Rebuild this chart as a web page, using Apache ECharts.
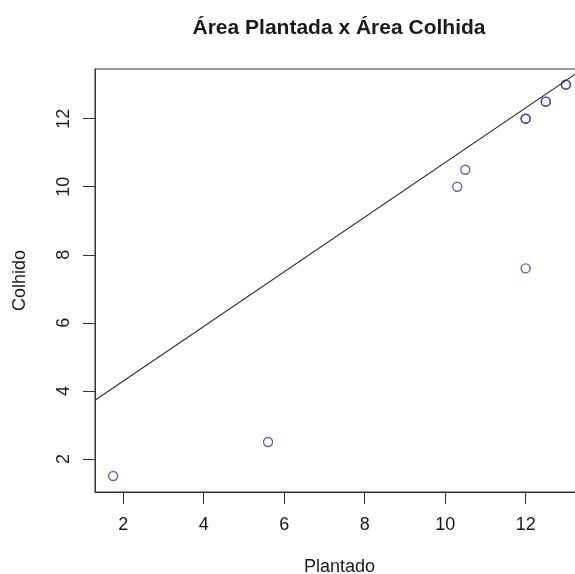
<!DOCTYPE html>
<html>
<head>
<meta charset="utf-8">
<script src="https://cdn.jsdelivr.net/npm/echarts@6/dist/echarts.min.js"></script>
<style>
  html, body { margin: 0; padding: 0; background: #fff; }
  #chart { width: 575px; height: 574px; }
</style>
</head>
<body>
<div id="chart"></div>
<script>
// data
let plantado = [1.75, 5.6, 10.3, 10.5, 12, 12, 12, 12.5, 12.5, 13, 13];
let colhido = [1.5, 2.5, 10, 10.5, 12, 12, 7.6, 12.5, 12.5, 13, 13];
let xTicks = [2, 4, 6, 8, 10, 12];
let yTicks = [2, 4, 6, 8, 10, 12];

// fitted line (abline)
let intercept = 2.68;
let slope = 0.803;

let xMin = 1.3, xMax = 13.45;
let yMin = 1.03, yMax = 13.46;

let fontFamily = '"Liberation Sans", Arial, sans-serif';
let textColor = '#1a1a1a';
let axisColor = '#333';

let points = plantado.map(function (x, i) { return [x, colhido[i]]; });
let lineData = [
    [xMin, intercept + slope * xMin],
    [xMax, intercept + slope * xMax]
];

let chart = echarts.init(document.getElementById('chart'));

chart.setOption({
    backgroundColor: '#fff',
    animation: false,
    title: {
        text: 'Área Plantada x Área Colhida',
        left: 334,
        top: 13,
        textAlign: 'center',
        textStyle: {
            fontFamily: fontFamily,
            fontSize: 21,
            fontWeight: 'bold',
            color: textColor
        }
    },
    grid: {
        left: 95,
        top: 69,
        width: 489,
        height: 423,
        outerBoundsMode: 'none',
        containLabel: false,
        show: true,
        borderColor: axisColor,
        borderWidth: 1
    },
    xAxis: {
        type: 'value',
        min: xMin,
        max: xMax,
        name: 'Plantado',
        nameLocation: 'middle',
        nameGap: 66,
        nameTextStyle: { fontFamily: fontFamily, fontSize: 18, color: textColor },
        axisLine: { show: true, onZero: false, lineStyle: { color: axisColor } },
        axisTick: { show: true, length: 12, customValues: xTicks, lineStyle: { color: axisColor } },
        axisLabel: {
            customValues: xTicks,
            margin: 24,
            fontFamily: fontFamily,
            fontSize: 18,
            color: textColor
        },
        splitLine: { show: false }
    },
    yAxis: {
        type: 'value',
        min: yMin,
        max: yMax,
        name: 'Colhido',
        nameLocation: 'middle',
        nameRotate: 90,
        nameGap: 66,
        nameTextStyle: { fontFamily: fontFamily, fontSize: 18, color: textColor },
        axisLine: { show: true, onZero: false, lineStyle: { color: axisColor } },
        axisTick: { show: true, length: 12, customValues: yTicks, lineStyle: { color: axisColor } },
        axisLabel: {
            customValues: yTicks,
            rotate: 90,
            margin: 22,
            fontFamily: fontFamily,
            fontSize: 18,
            color: textColor
        },
        splitLine: { show: false }
    },
    series: [
        {
            type: 'line',
            data: lineData,
            symbol: 'none',
            clip: true,
            lineStyle: { color: '#2a2a2a', width: 1.1 },
            silent: true
        },
        {
            type: 'scatter',
            data: points,
            symbol: 'circle',
            symbolSize: 9,
            itemStyle: {
                color: 'transparent',
                borderColor: '#3a3aa0',
                borderWidth: 1.4
            }
        }
    ]
});
</script>
</body>
</html>
